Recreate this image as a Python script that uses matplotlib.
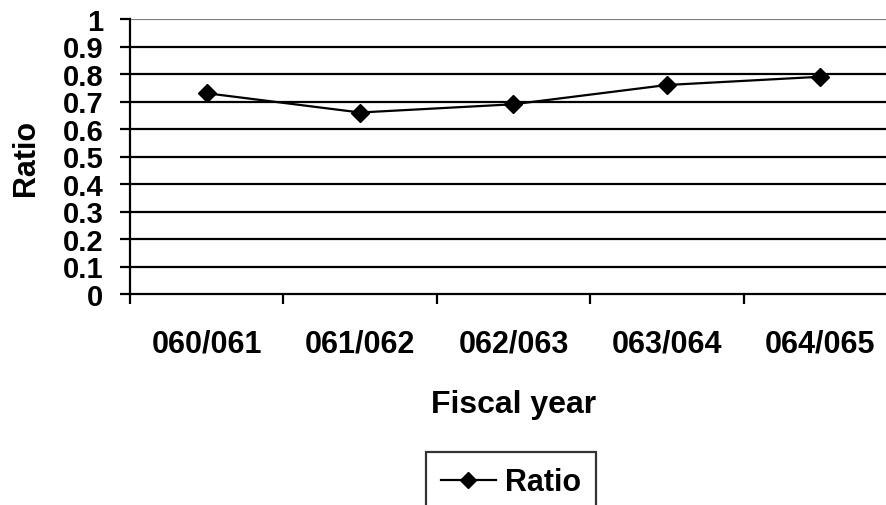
import matplotlib
matplotlib.use("Agg")
import matplotlib.pyplot as plt
from matplotlib.ticker import FixedLocator, NullFormatter

# Ratio by fiscal year
years = ["060/061", "061/062", "062/063", "063/064", "064/065"]
ratio = [0.73, 0.66, 0.69, 0.76, 0.79]
y_ticks = [0, 0.1, 0.2, 0.3, 0.4, 0.5, 0.6, 0.7, 0.8, 0.9, 1]
y_tick_labels = ["0", "0.1", "0.2", "0.3", "0.4", "0.5", "0.6", "0.7", "0.8", "0.9", "1"]

plt.rcParams["font.family"] = ["Liberation Sans", "DejaVu Sans"]
plt.rcParams["font.weight"] = "bold"

W, H = 887, 506
fig = plt.figure(figsize=(W / 100, H / 100), dpi=100)
ax = fig.add_axes([130 / W, (H - 295) / H, (897 - 130) / W, 275 / H])

x = list(range(len(years)))

# horizontal gridlines
for v in y_ticks[1:]:
    ax.axhline(v, color="#808080" if v == 1 else "black", lw=1.6, zorder=1)

ax.plot(x, ratio, color="black", lw=1.6, marker="D", markersize=9,
        markerfacecolor="black", markeredgecolor="black", label="Ratio", zorder=3)

ax.set_xlim(-0.5, len(years) - 0.5)
ax.set_ylim(0, 1)

ax.set_yticks(y_ticks)
ax.set_yticklabels(y_tick_labels)
ax.tick_params(axis="y", direction="out", length=7, width=1.6, labelsize=21, pad=12)

# category labels at centres, tick marks at boundaries
ax.set_xticks(x)
ax.set_xticklabels(years)
ax.tick_params(axis="x", which="major", length=0, labelsize=22, pad=25)
ax.xaxis.set_minor_locator(FixedLocator([i - 0.5 for i in range(len(years))]))
ax.xaxis.set_minor_formatter(NullFormatter())
ax.tick_params(axis="x", which="minor", direction="out", length=7, width=1.6)

for s in ["top", "right"]:
    ax.spines[s].set_visible(False)
for s in ["left", "bottom"]:
    ax.spines[s].set_linewidth(1.6)
    ax.spines[s].set_color("black")

ax.set_xlabel("Fiscal year", fontsize=23, fontweight="bold", labelpad=22)
ax.set_ylabel("Ratio", fontsize=22, fontweight="bold", labelpad=16)

leg = fig.legend(loc="upper center", bbox_to_anchor=(511 / W, 1 - 453 / H),
                 fontsize=22, frameon=True, fancybox=False, shadow=False,
                 handlelength=1.8, handletextpad=0.3, borderpad=0.5,
                 borderaxespad=0, markerscale=0.9)
leg.get_frame().set_edgecolor("black")
leg.get_frame().set_linewidth(1.6)

fig.savefig("out.png", dpi=100)
